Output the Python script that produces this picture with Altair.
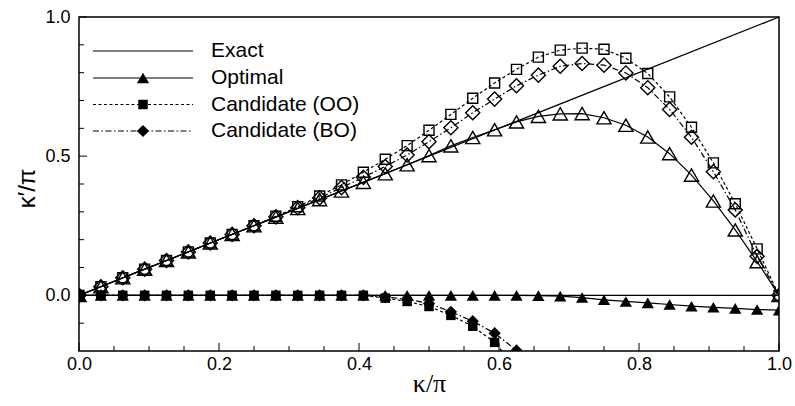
import altair as alt
import pandas as pd

# ---------------- data ----------------
kappa = [0.0, 0.03125, 0.0625, 0.09375, 0.125, 0.15625, 0.1875, 0.21875, 0.25,
         0.28125, 0.3125, 0.34375, 0.375, 0.40625, 0.4375, 0.46875, 0.5,
         0.53125, 0.5625, 0.59375, 0.625, 0.65625, 0.6875, 0.71875, 0.75,
         0.78125, 0.8125, 0.84375, 0.875, 0.90625, 0.9375, 0.96875, 1.0]

exact_x = [0.0, 1.0]
exact_re = [0.0, 1.0]
exact_im = [0.0, 0.0]

optimal_re = [0.0, 0.031, 0.063, 0.094, 0.125, 0.156, 0.188, 0.219, 0.25, 0.281,
              0.312, 0.344, 0.375, 0.406, 0.437, 0.469, 0.502, 0.537, 0.567,
              0.595, 0.623, 0.643, 0.652, 0.653, 0.638, 0.611, 0.569, 0.509,
              0.432, 0.339, 0.235, 0.121, 0.0]
optimal_im = [0.0, 0.0, 0.0, 0.0, 0.0, 0.0, 0.0, 0.0, 0.0, 0.0, 0.0, 0.0, 0.0,
              0.0, 0.0, 0.0, 0.0, 0.0, 0.0, 0.0, 0.0, -0.001, -0.003, -0.008,
              -0.016, -0.022, -0.027, -0.033, -0.039, -0.043, -0.047, -0.051,
              -0.053]

oo_re = [0.0, 0.031, 0.063, 0.094, 0.125, 0.156, 0.188, 0.219, 0.25, 0.284,
         0.318, 0.357, 0.397, 0.442, 0.489, 0.538, 0.593, 0.650, 0.708, 0.763,
         0.812, 0.856, 0.881, 0.888, 0.884, 0.852, 0.797, 0.713, 0.604, 0.476,
         0.329, 0.167, 0.0]
oo_im = [0.0, 0.0, 0.0, 0.0, 0.0, 0.0, 0.0, 0.0, 0.0, 0.0, 0.0, 0.0, 0.0, 0.0,
         -0.010, -0.022, -0.040, -0.072, -0.111, -0.169, -0.26]

bo_re = [0.0, 0.031, 0.063, 0.094, 0.125, 0.156, 0.188, 0.219, 0.25, 0.282,
         0.315, 0.35, 0.387, 0.424, 0.463, 0.504, 0.552, 0.602, 0.656, 0.705,
         0.753, 0.791, 0.823, 0.833, 0.827, 0.799, 0.746, 0.668, 0.568, 0.444,
         0.307, 0.140, 0.0]
bo_im = [0.0, 0.0, 0.0, 0.0, 0.0, 0.0, 0.0, 0.0, 0.0, 0.0, 0.0, 0.0, 0.0, 0.0,
         -0.006, -0.014, -0.029, -0.059, -0.093, -0.136, -0.198]

legend_labels = ["Exact", "Optimal", "Candidate (OO)", "Candidate (BO)"]

x_major_ticks = [0.0, 0.2, 0.4, 0.6, 0.8, 1.0]
x_minor_ticks = [0.05, 0.1, 0.15, 0.25, 0.3, 0.35, 0.45, 0.5, 0.55, 0.65, 0.7,
                 0.75, 0.85, 0.9, 0.95]
y_major_ticks = [0.0, 0.5, 1.0]
y_minor_ticks = [-0.1, 0.1, 0.2, 0.3, 0.4, 0.6, 0.7, 0.8, 0.9]

# ---------------- layout / style ----------------
W, H = 700, 334
FONT = "Liberation Sans"

x_axis = alt.Axis(values=x_major_ticks, format=".1f", ticks=False, domain=False,
                  grid=False, labelFont=FONT, labelFontSize=18, labelColor="black",
                  labelPadding=4, labelFlush=False, labelOverlap=False,
                  title="κ/π", titleFont="Liberation Serif", titleFontSize=26,
                  titleFontWeight="normal", titleColor="black",
                  titleX=W / 2, titleY=40, titleBaseline="alphabetic")
y_axis = alt.Axis(values=y_major_ticks, format=".1f", ticks=False, domain=False,
                  grid=False, labelFont=FONT, labelFontSize=18, labelColor="black",
                  labelPadding=9, labelFlush=False, labelOverlap=False,
                  title="κ′/π", titleFont=FONT, titleFontSize=24,
                  titleFontWeight="normal", titleColor="black",
                  titleX=-52, titleY=171, titleAngle=270, titleBaseline="middle",
                  titleAlign="center")

xs = alt.Scale(domain=[0, 1], nice=False, zero=False)
ys = alt.Scale(domain=[-0.2, 1.0], nice=False, zero=False)


def xenc(f):
    return alt.X(f"{f}:Q", scale=xs, axis=x_axis)


def yenc(f):
    return alt.Y(f"{f}:Q", scale=ys, axis=y_axis)


def df(xv, yv):
    return pd.DataFrame({"x": xv[:len(yv)], "y": yv})


layers = []

# exact
for yy in (exact_re, exact_im):
    layers.append(alt.Chart(df(exact_x, yy)).mark_line(color="black", strokeWidth=1.2)
                  .encode(x=xenc("x"), y=yenc("y")))

series = [
    (optimal_re, optimal_im, None, "triangle-up", 200, 150),
    (oo_re, oo_im, [3, 2.5], "square", 100, 90),
    (bo_re, bo_im, [6, 2.5, 1.5, 2.5], "diamond", 200, 150),
]

for re, im, dash, shape, s_open, s_fill in series:
    lk = dict(color="black", strokeWidth=1.2, clip=True)
    if dash:
        lk["strokeDash"] = dash
    layers.append(alt.Chart(df(kappa, re)).mark_line(**lk)
                  .encode(x=xenc("x"), y=yenc("y")))
    layers.append(alt.Chart(df(kappa, im)).mark_line(**lk)
                  .encode(x=xenc("x"), y=yenc("y")))

for re, im, dash, shape, s_open, s_fill in series:
    layers.append(alt.Chart(df(kappa, re)).mark_point(
        shape=shape, size=s_open, filled=False, color="black", strokeWidth=1.4,
        opacity=1, clip=True).encode(x=xenc("x"), y=yenc("y")))
    layers.append(alt.Chart(df(kappa, im)).mark_point(
        shape=shape, size=s_fill, filled=True, color="black", opacity=1,
        clip=True).encode(x=xenc("x"), y=yenc("y")))

# inward ticks
for vals, L in ((x_major_ticks, 8), (x_minor_ticks, 5)):
    layers.append(alt.Chart(pd.DataFrame({"t": vals})).mark_rule(color="black", strokeWidth=1)
                  .encode(x=xenc("t"), y=alt.value(H), y2=alt.value(H - L)))
for vals, L in ((y_major_ticks, 8), (y_minor_ticks, 5)):
    layers.append(alt.Chart(pd.DataFrame({"t": vals})).mark_rule(color="black", strokeWidth=1)
                  .encode(y=yenc("t"), x=alt.value(0), x2=alt.value(L)))

# legend
rows_y = [34, 61, 87.5, 114]
leg_style = [(None, None, 0), (None, "triangle-up", 150), ([3, 2.5], "square", 90),
             ([6, 2.5, 1.5, 2.5], "diamond", 150)]
for lab, ry, (dash, shape, sz) in zip(legend_labels, rows_y, leg_style):
    d = pd.DataFrame({"label": [lab]})
    rk = dict(color="black", strokeWidth=1.2)
    if dash:
        rk["strokeDash"] = dash
    layers.append(alt.Chart(d).mark_rule(**rk).encode(
        x=alt.value(14), x2=alt.value(114), y=alt.value(ry)))
    if shape:
        layers.append(alt.Chart(d).mark_point(shape=shape, size=sz, filled=True,
                                              color="black", opacity=1).encode(
            x=alt.value(64), y=alt.value(ry)))
    layers.append(alt.Chart(d).mark_text(align="left", baseline="middle", font=FONT,
                                         fontSize=21, color="black").encode(
        x=alt.value(132), y=alt.value(ry), text="label:N"))

chart = (alt.layer(*layers)
         .properties(width=W, height=H,
                     padding={"left": 79, "top": 17, "right": 16, "bottom": 55},
                     autosize=alt.AutoSizeParams(type="none"),
                     background="white")
         .configure_view(stroke="black", strokeWidth=1.5))

chart.save("out.html", embed_options={"renderer": "svg", "actions": False})
